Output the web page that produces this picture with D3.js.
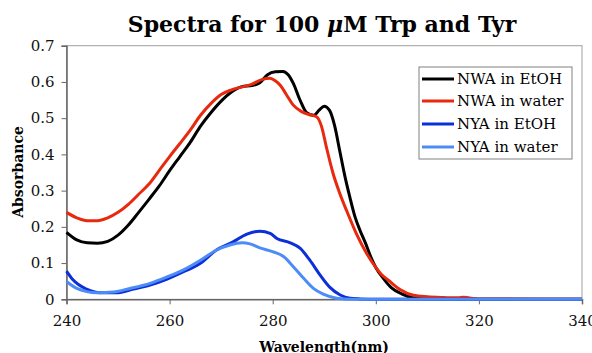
<!DOCTYPE html>
<html><head><meta charset="utf-8">
<script src="https://cdn.jsdelivr.net/npm/d3@7"></script>
<style>
html,body{margin:0;padding:0;background:#fff;}
svg{display:block;font-family:"DejaVu Serif",serif;}
svg text{font-family:"DejaVu Serif",serif;}
</style></head>
<body>
<svg id="c" width="592" height="353"></svg>
<script>
// ---- data ----
const xTicks = [240, 260, 280, 300, 320, 340];
const yTicks = [0, 0.1, 0.2, 0.3, 0.4, 0.5, 0.6, 0.7];
const seriesNames = ["NWA in EtOH", "NWA in water", "NYA in EtOH", "NYA in water"];
const seriesColors = ["#000000", "#e8290d", "#0b2fd8", "#4d8cf6"];

const nwaEtoh = [[240,0.185],[242,0.164],[244,0.156],[246,0.155],[248,0.160],[250,0.177],[252,0.205],[254,0.240],[256,0.276],[258,0.313],[260,0.355],[262,0.394],[264,0.433],[266,0.478],[268,0.515],[270,0.547],[272,0.572],[274,0.587],[276,0.590],[277.5,0.598],[279,0.620],[280.5,0.628],[282,0.629],[283,0.620],[284,0.596],[285.3,0.550],[286.6,0.515],[288,0.508],[289,0.522],[290,0.533],[291,0.522],[292,0.480],[293,0.410],[294,0.340],[295,0.280],[296,0.226],[297,0.188],[298,0.155],[299,0.118],[300,0.088],[301.5,0.057],[303,0.032],[305,0.015],[307,0.005],[310,0.001],[320,0],[340,0]];
const nwaWater = [[240,0.240],[242,0.225],[244,0.217],[246,0.217],[248,0.225],[250,0.240],[252,0.262],[254,0.290],[256,0.318],[258,0.356],[260,0.394],[262,0.430],[264,0.467],[266,0.508],[268,0.540],[270,0.565],[272,0.578],[274,0.586],[276,0.594],[278,0.607],[279.5,0.610],[280.5,0.603],[281.5,0.590],[282.7,0.564],[284,0.536],[285.6,0.518],[287,0.510],[288.5,0.504],[289.5,0.476],[290.4,0.421],[291.7,0.348],[293,0.293],[294.3,0.246],[296.2,0.182],[298.2,0.127],[300,0.088],[301,0.070],[302.5,0.052],[304.7,0.027],[307.3,0.011],[310,0.007],[313,0.005],[316,0.004],[317,0.006],[318,0.004],[320,0.001],[340,0]];
const nyaEtoh = [[240,0.078],[241.3,0.053],[243.9,0.028],[246.5,0.018],[249.7,0.018],[253,0.028],[256.2,0.039],[259.4,0.055],[262.7,0.076],[265.9,0.099],[269.1,0.136],[272.4,0.159],[275,0.180],[277.5,0.188],[279.5,0.182],[280.8,0.168],[283.4,0.156],[285.3,0.141],[287.2,0.108],[289.2,0.067],[291.1,0.033],[293.1,0.012],[295,0.003],[297,0.001],[300,0],[340,0]];
const nyaWater = [[240,0.049],[242,0.030],[245.9,0.018],[249.1,0.020],[252.3,0.030],[256.2,0.044],[259.4,0.061],[262.7,0.081],[265.9,0.107],[269.1,0.136],[271.7,0.150],[274,0.156],[275.6,0.153],[277.5,0.142],[280.1,0.131],[282.1,0.118],[284,0.090],[286,0.058],[287.9,0.030],[289.8,0.014],[292.4,0.003],[295,0],[340,0]];
const allSeries = [nwaEtoh, nwaWater, nyaEtoh, nyaWater];

// ---- layout ----
const svg = d3.select("#c");
const L = 66.5, R = 582, T = 45.7, B = 299.3;
const x = d3.scaleLinear().domain([240, 340]).range([L, R]);
const y = d3.scaleLinear().domain([0, 0.7]).range([B, T]);

// plot border
svg.append("rect").attr("x", L).attr("y", T).attr("width", R - L).attr("height", B - T)
  .attr("fill", "none").attr("stroke", "#a0a0a0").attr("stroke-width", 1);

// axes
const ax = svg.append("g").attr("transform", `translate(0,${B})`)
  .call(d3.axisBottom(x).tickValues(xTicks).tickSize(5).tickPadding(11).tickFormat(d3.format("d")));
const ay = svg.append("g").attr("transform", `translate(${L},0)`)
  .call(d3.axisLeft(y).tickValues(yTicks).tickSize(5).tickPadding(7).tickFormat(d => d === 0 ? "0" : d3.format(".1f")(d)));
[ax, ay].forEach(g => {
  g.attr("font-family", "DejaVu Serif");
  g.select(".domain").attr("stroke", "#666").attr("stroke-width", 1.5);
  g.selectAll(".tick line").attr("stroke", "#666");
  g.selectAll(".tick text").attr("font-size", 15).attr("fill", "#111");
});

// lines
const line = d3.line().x(d => x(d[0])).y(d => y(d[1])).curve(d3.curveMonotoneX);
allSeries.forEach((s, i) => {
  svg.append("path").datum(s).attr("d", line).attr("fill", "none")
    .attr("stroke", seriesColors[i]).attr("stroke-width", 3).attr("stroke-linejoin", "round");
});

// title
const title = svg.append("text").attr("x", 322).attr("y", 32).attr("text-anchor", "middle")
  .attr("font-weight", "bold").attr("font-size", 22).attr("fill", "#000");
title.append("tspan").text("Spectra for 100 ");
title.append("tspan").attr("font-style", "italic").text("μ");
title.append("tspan").text("M Trp and Tyr");

// axis titles
svg.append("text").attr("x", 324).attr("y", 352).attr("text-anchor", "middle")
  .attr("font-weight", "bold").attr("font-size", 14).text("Wavelength(nm)");
svg.append("text").attr("transform", "translate(23,172) rotate(-90)").attr("text-anchor", "middle")
  .attr("font-weight", "bold").attr("font-size", 14).text("Absorbance");

// legend
const lg = svg.append("g");
lg.append("rect").attr("x", 419).attr("y", 67).attr("width", 153).attr("height", 92)
  .attr("fill", "#fff").attr("stroke", "#808080").attr("stroke-width", 1);
const rows = [79, 101, 124, 147];
seriesNames.forEach((n, i) => {
  lg.append("line").attr("x1", 422).attr("x2", 454).attr("y1", rows[i]).attr("y2", rows[i])
    .attr("stroke", seriesColors[i]).attr("stroke-width", 3);
  lg.append("text").attr("x", 457).attr("y", rows[i]).attr("dy", "0.35em")
    .attr("font-size", 15).attr("fill", "#000").text(n);
});
</script>
</body></html>
